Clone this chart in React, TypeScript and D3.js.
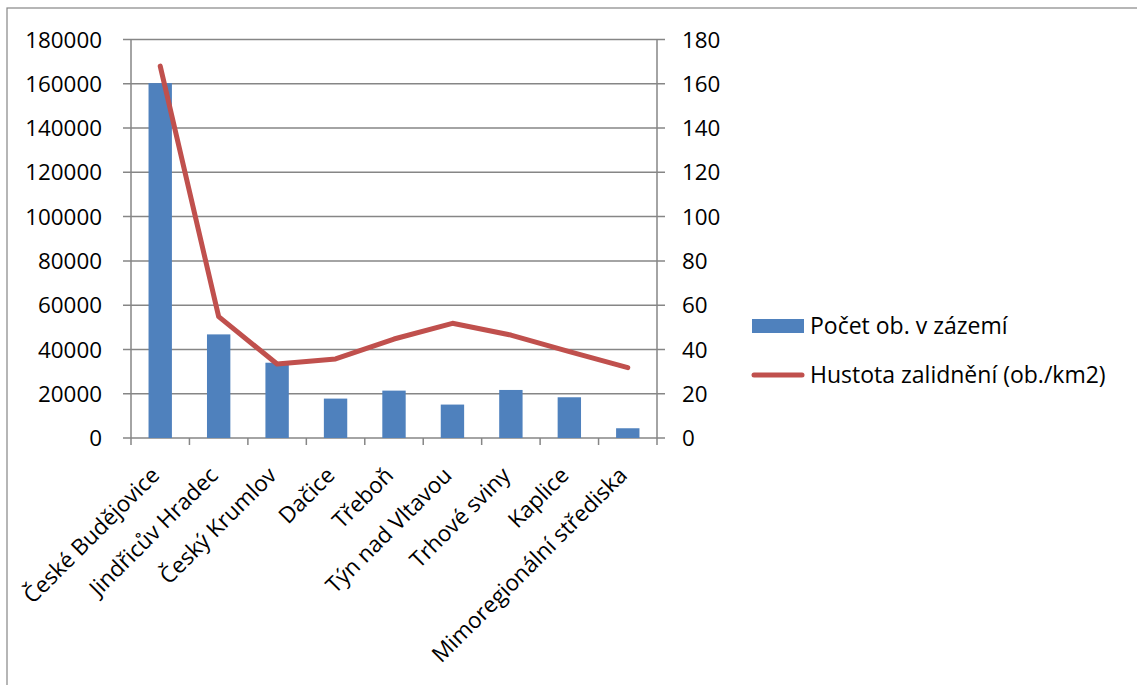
import React from "react";
import * as d3 from "d3";

const categories = [
  "České Budějovice",
  "Jindřicův Hradec",
  "Český Krumlov",
  "Dačice",
  "Třeboň",
  "Týn nad Vltavou",
  "Trhové sviny",
  "Kaplice",
  "Mimoregionální střediska",
];
const population = [160300, 46800, 34000, 17800, 21400, 15100, 21700, 18400, 4400];
const density = [168, 54.8, 33.4, 35.7, 44.7, 51.8, 46.5, 39, 31.8];
const leftTicks = [0, 20000, 40000, 60000, 80000, 100000, 120000, 140000, 160000, 180000];
const rightTicks = [0, 20, 40, 60, 80, 100, 120, 140, 160, 180];
const seriesNames = ["Počet ob. v zázemí", "Hustota zalidnění (ob./km2)"];

const W = 1137;
const H = 685;
const left = 131;
const right = 657;
const top = 39.5;
const bottom = 438;
const font = "'Open Sans', sans-serif";
const grid = "#868686";
const fs = 22.4;

export default function App() {
  const x = d3.scaleBand().domain(categories).range([left, right]).paddingInner(0.6).paddingOuter(0.3);
  const step = (right - left) / categories.length;
  const yL = d3.scaleLinear().domain([0, 180000]).range([bottom, top]);
  const yR = d3.scaleLinear().domain([0, 180]).range([bottom, top]);
  const line = d3
    .line<number>()
    .x((_, i) => (x(categories[i]) as number) + x.bandwidth() / 2)
    .y((d) => yR(d));

  return (
    <svg width={W} height={H} style={{ position: "absolute", left: 0, top: 0, fontFamily: font }}>
      <rect x={7} y={8} width={W + 10} height={H + 10} fill="#fff" stroke={grid} strokeWidth={1.2} />
      {leftTicks.map((t) => (
        <g key={t}>
          <line x1={left - 8} x2={right + 8} y1={yL(t)} y2={yL(t)} stroke={grid} strokeWidth={1.5} />
          <text x={102} y={yL(t)} dy="0.36em" textAnchor="end" fontSize={fs} fill="#000">
            {t}
          </text>
        </g>
      ))}
      {rightTicks.map((t) => (
        <text key={t} x={682} y={yR(t)} dy="0.36em" fontSize={fs} fill="#000">
          {t}
        </text>
      ))}
      <line x1={left} x2={left} y1={top} y2={bottom} stroke={grid} strokeWidth={1.5} />
      <line x1={right} x2={right} y1={top} y2={bottom} stroke={grid} strokeWidth={1.5} />
      {d3.range(categories.length + 1).map((i) => (
        <line key={i} x1={left + i * step} x2={left + i * step} y1={bottom} y2={bottom + 7} stroke={grid} strokeWidth={1.5} />
      ))}
      {population.map((v, i) => (
        <rect
          key={i}
          x={x(categories[i])}
          y={yL(v)}
          width={x.bandwidth()}
          height={bottom - yL(v)}
          fill="#4F81BD"
        />
      ))}
      <path d={line(density) || ""} fill="none" stroke="#C0504D" strokeWidth={5} strokeLinejoin="round" strokeLinecap="round" />
      {categories.map((c) => {
        const cx = (x(c) as number) + x.bandwidth() / 2 - 5;
        const cy = bottom + 33;
        return (
          <text key={c} transform={`translate(${cx},${cy}) rotate(-45)`} textAnchor="end" dy="0.36em" fontSize={fs} fill="#000">
            {c}
          </text>
        );
      })}
      <rect x={752} y={319} width={52} height={14} fill="#4F81BD" />
      <text x={810} y={326} dy="0.36em" fontSize={23} fill="#000">
        {seriesNames[0]}
      </text>
      <line x1={754} x2={802} y1={375} y2={375} stroke="#C0504D" strokeWidth={5} strokeLinecap="round" />
      <text x={810} y={375} dy="0.36em" fontSize={23} fill="#000">
        {seriesNames[1]}
      </text>
    </svg>
  );
}
